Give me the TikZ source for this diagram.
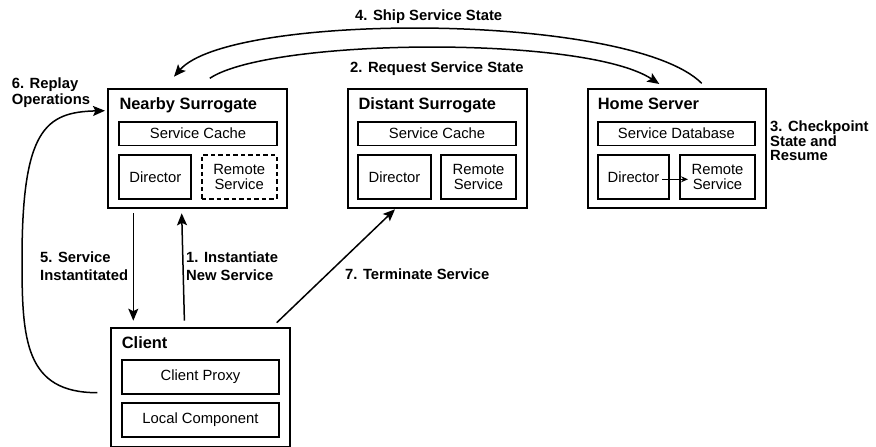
\documentclass[tikz,border=0pt]{standalone}
\usepackage{fontspec}
\setmainfont{Liberation Sans}
\usetikzlibrary{arrows.meta}
\newcommand\partfont{\fontsize{14.8}{14.3}\selectfont}
\newcommand\titlefont{\fontsize{16.4}{19}\selectfont\bfseries}
\newcommand\lblfont{\fontsize{14.8}{17.7}\selectfont\bfseries}
\begin{document}
\begin{tikzpicture}[x=1pt,y=-1pt,
  box/.style={draw, line width=2pt, minimum width=179pt, minimum height=119pt,
    anchor=north west, inner sep=0pt, outer sep=0pt},
  part/.style={draw, line width=1.8pt, anchor=north west, inner sep=0pt,
    outer sep=0pt, align=center, font=\partfont},
  wide/.style={part, minimum width=157.5pt, minimum height=23.4pt},
  half/.style={part, minimum height=43.4pt},
  title/.style={anchor=base west, inner sep=0pt, font=\titlefont},
  lbl/.style={anchor=base west, inner sep=0pt, align=left, font=\lblfont},
  arr/.style={line width=1.5pt, -{Stealth[length=12pt,width=10pt,inset=2.5pt]}},
]
\useasboundingbox (0,0) rectangle (876,447);

% Nearby surrogate
\node[box] (near) at (108.3,89.3) {};
\node[title] (neart) at (119.3,109.6) {Nearby Surrogate};
\node[wide] (ncache) at (119.3,122) {Service Cache};
\node[half, minimum width=72pt] (ndir) at (119.3,155.3) {Director};
\node[half, minimum width=75pt, dash pattern=on 4.5pt off 3pt] (nrem) at (201.7,155.3) {Remote\\Service};

% Distant surrogate
\node[box] (dist) at (348.3,89.3) {};
\node[title] (distt) at (358.3,109.6) {Distant Surrogate};
\node[wide] (dcache) at (358.3,122) {Service Cache};
\node[half, minimum width=72.4pt] (ddir) at (358.3,155.3) {Director};
\node[half, minimum width=75pt] (drem) at (441,155.3) {Remote\\Service};

% Home server
\node[box, minimum width=178.3pt] (home) at (587.7,89.3) {};
\node[title] (homet) at (597.7,109.6) {Home Server};
\node[wide, minimum width=157.3pt] (hdb) at (597.7,122) {Service Database};
\node[half, minimum width=71.6pt] (hdir) at (597.7,155.3) {Director};
\node[half, minimum width=75pt] (hrem) at (680,155.3) {Remote\\Service};
\draw[line width=1.2pt, -{Stealth[length=7pt,width=6pt]}]
  ([xshift=-7pt,yshift=-2.3pt]hdir.east) -- ([xshift=8pt,yshift=-2.3pt]hrem.west);

% Client
\node[box, minimum height=118.4pt] (client) at (111,328.3) {};
\node[title] (clientt) at (121.7,348.6) {Client};
\node[part, minimum width=157.6pt, minimum height=34.3pt] (proxy) at (121.7,360) {Client Proxy};
\node[part, minimum width=157.6pt, minimum height=33.4pt] (local) at (121.7,403.3) {Local Component};

% Message flow
\draw[arr] ([xshift=73.4pt,yshift=7.6pt]client.north west) -- ([xshift=73.4pt,yshift=-5pt]near.south west);
\draw[arr] ([xshift=12pt,yshift=11pt]near.north)
  .. controls (270,38) and (585,35) .. ([xshift=71.6pt,yshift=5.3pt]home.north west);
\draw[arr] ([xshift=114pt,yshift=6pt]home.north west)
  .. controls (630,12) and (230,12) .. ([xshift=65.7pt,yshift=12.6pt]near.north west);
\draw[arr] ([xshift=25pt,yshift=-5pt]near.south west) -- ([xshift=22.3pt,yshift=7.6pt]client.north west);
\draw[arr] ([xshift=-13.7pt,yshift=-5.2pt]client.west)
  .. controls (25,392.7) and (22,340) .. (22,260)
  .. controls (22,130) and (45,112) .. ([xshift=-3.3pt,yshift=-21.4pt]near.north west);
\draw[arr] ([xshift=-13.3pt,yshift=5.6pt]client.north east) -- ([xshift=46.7pt,yshift=-1pt]dist.south west);

% Step labels (anchored on the baseline of their last line)
\node[lbl] (l1) at (186,280.3) {1. Instantiate\\New Service};
\node[lbl] (l2) at (350,72) {2. Request Service State};
\node[lbl, font=\fontsize{14.8}{14.5}\selectfont\bfseries] (l3) at (770,160.6) {3. Checkpoint\\State and\\Resume};
\node[lbl] (l4) at (355,20.3) {4. Ship Service State};
\node[lbl] (l5) at (40,280.3) {5. Service\\Instantitated};
\node[lbl, font=\fontsize{14.8}{15.5}\selectfont\bfseries] (l6) at (11.7,104.1) {6. Replay\\Operations};
\node[lbl] (l7) at (345,279.3) {7. Terminate Service};
\end{tikzpicture}
\end{document}
